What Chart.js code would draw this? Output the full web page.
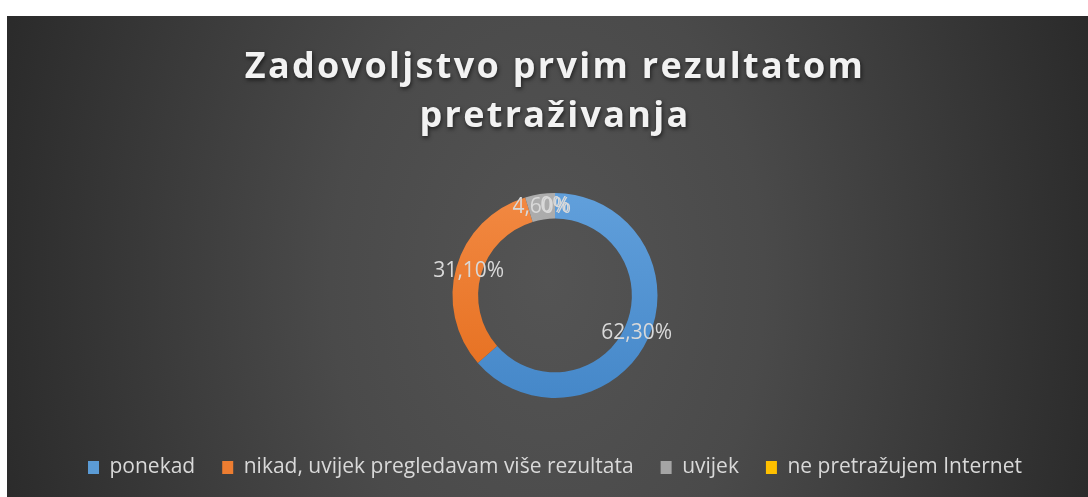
<!DOCTYPE html>
<html>
<head>
<meta charset="utf-8">
<script src="https://cdn.jsdelivr.net/npm/chart.js@4/dist/chart.umd.min.js"></script>
<style>
  html, body { margin: 0; padding: 0; background: #fff; }
  #panel {
    position: absolute; left: 7px; top: 16px; width: 1081px; height: 481px;
    background: radial-gradient(ellipse 620px 900px at 50% 55%, #545454 0%, #4a4a4a 35%, #262626 100%);
  }
</style>
</head>
<body>
<div id="panel"><canvas id="myChart" width="1081" height="481"></canvas></div>
<script>
// podaci
const labels = ['ponekad', 'nikad, uvijek pregledavam više rezultata', 'uvijek', 'ne pretražujem Internet'];
const values = [62.3, 31.1, 4.6, 0];
const valueLabels = ['62,30%', '31,10%', '4,60%', '0%'];
const titleLines = ['Zadovoljstvo prvim rezultatom', 'pretraživanja'];

const solid = ['#5b9bd5', '#ed7d31', '#a5a5a5', '#ffc000'];
const tops = ['#65a3de', '#f48d48', '#b0b0b0', '#ffc90f'];
const bottoms = ['#4184c6', '#e36a18', '#9a9a9a', '#f2b400'];

// razmak slova samo za naslov
const titleSpacing = {
    id: 'titleSpacing',
    afterInit(chart) {
        const tb = chart.titleBlock;
        const orig = tb.draw;
        tb.draw = function () {
            const ctx = this.ctx;
            ctx.save();
            ctx.letterSpacing = '2.3px';
            ctx.shadowColor = 'rgba(0,0,0,0.6)';
            ctx.shadowBlur = 4;
            ctx.shadowOffsetX = 1;
            ctx.shadowOffsetY = 2;
            orig.call(this);
            ctx.restore();
        };
    }
};

// oznake vrijednosti na prstenu
const sliceLabels = {
    id: 'sliceLabels',
    afterDatasetsDraw(chart) {
        const ctx = chart.ctx;
        const meta = chart.getDatasetMeta(0);
        ctx.save();
        ctx.font = '21px "Open Sans"';
        ctx.fillStyle = '#d9d9d9';
        ctx.textAlign = 'center';
        ctx.textBaseline = 'middle';
        meta.data.forEach((arc, i) => {
            const p = arc.tooltipPosition();
            ctx.fillText(valueLabels[i], p.x, p.y);
        });
        ctx.restore();
    }
};

const ctx = document.getElementById('myChart');

new Chart(ctx, {
    type: 'doughnut',
    data: {
        labels: labels,
        datasets: [{
            data: values,
            borderWidth: 0,
            backgroundColor: function (context) {
                const chart = context.chart;
                const area = chart.chartArea;
                const i = context.dataIndex;
                if (!area) return solid[i];
                const g = chart.ctx.createLinearGradient(0, area.top, 0, area.bottom);
                g.addColorStop(0, tops[i]);
                g.addColorStop(1, bottoms[i]);
                return g;
            }
        }]
    },
    plugins: [titleSpacing, sliceLabels],
    options: {
        responsive: false,
        animation: false,
        cutout: '75%',
        radius: 102.5,
        layout: {
            padding: { top: 8, bottom: 9, left: 15, right: 0 }
        },
        plugins: {
            tooltip: { enabled: false },
            title: {
                display: true,
                text: titleLines,
                color: '#f2f2f2',
                font: { family: '"Open Sans"', size: 36, weight: 'bold', lineHeight: 1.36 },
                padding: { top: 19, bottom: 20 }
            },
            legend: {
                position: 'bottom',
                labels: {
                    color: '#d9d9d9',
                    font: { family: '"Open Sans"', size: 21 },
                    boxWidth: 11,
                    boxHeight: 13,
                    padding: 27,
                    generateLabels: function (chart) {
                        return labels.map((t, i) => ({
                            text: t,
                            fillStyle: solid[i],
                            strokeStyle: solid[i],
                            lineWidth: 0,
                            fontColor: '#d9d9d9',
                            index: i
                        }));
                    }
                }
            }
        }
    }
});
</script>
</body>
</html>
